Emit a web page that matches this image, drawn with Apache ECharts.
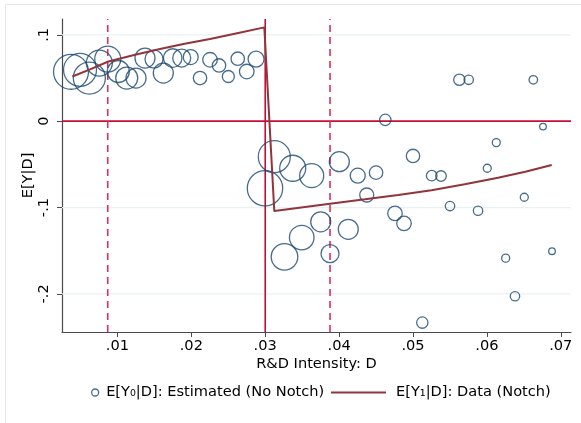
<!DOCTYPE html>
<html>
<head>
<meta charset="utf-8">
<script src="https://cdn.jsdelivr.net/npm/echarts@6/dist/echarts.min.js"></script>
<style>
html,body{margin:0;padding:0;background:#fff;}
#chart{width:581px;height:423px;}
</style>
</head>
<body>
<div id="chart"></div>
<script>
// Estimated E[Y0|D] bins: R&D intensity, outcome, bin weight
const estD = [0.00372,0.00494,0.0062,0.00755,0.00869,0.01012,0.01126,0.01252,0.01373,0.01495,
  0.01621,0.01748,0.0187,0.01992,0.02118,0.02253,0.02375,0.02501,0.02628,0.0275,0.02876,
  0.02997,0.03123,0.03372,0.03629,0.04003,0.04252,0.045,0.04374,0.04625,0.05,0.05253,0.05379,
  0.05627,0.05754,0.06005,0.06127,0.06628,0.06759,0.06506,0.05501,0.0588,0.04756,0.04878,
  0.03751,0.04124,0.03494,0.03261,0.03877,0.06254,0.06881,0.0638,0.05126];
const estY = [0.0572,0.0595,0.0499,0.0673,0.0719,0.0575,0.0499,0.0499,0.0731,0.0719,
  0.0557,0.0731,0.0731,0.0742,0.0499,0.0711,0.0645,0.0517,0.0723,0.0575,0.0719,
  -0.0777,-0.0411,-0.0545,-0.0631,-0.0469,-0.0631,-0.0596,-0.0855,0.0015,-0.0403,-0.0631,-0.0635,
  0.0479,0.0479,-0.0545,-0.0248,0.0479,-0.0063,-0.0881,-0.0983,-0.1037,-0.1067,-0.1183,
  -0.1165,-0.1252,-0.1348,-0.1571,-0.1534,-0.1586,-0.1505,-0.2027,-0.2332];
const estW = [306,272,256,169,169,121,121,100,100,81,
  100,86,81,56,45,53,45,36,45,53,64,
  313,256,169,144,100,56,45,49,32,45,28,28,
  32,22,16,16,18,11,16,22,22,53,53,
  100,100,151,177,81,16,11,22,32];

// Observed E[Y1|D] curve (with notch)
const lineD = [0.0039,0.0063,0.00877,0.0124,0.01576,0.0191,0.02253,0.0262,0.02988,
  0.03123,0.03877,0.0435,0.048,0.0525,0.057,0.0615,0.0652,0.06877];
const lineY = [0.0517,0.060,0.0691,0.0769,0.0835,0.0897,0.0951,0.1019,0.1086,
  -0.1041,-0.0956,-0.0905,-0.0855,-0.080,-0.0731,-0.0654,-0.0585,-0.0507];

// Reference lines
const notchD = 0.03;
const dashedD = [0.00869, 0.03877];
const zeroY = 0;
const gridY = [-0.2, -0.1, 0.1];

// Axis ranges and ticks
const xRange = [0.0025, 0.07138];
const yRange = [-0.2441, 0.1183];
const xTicks = [0.01,0.02,0.03,0.04,0.05,0.06,0.07];
const xTickLabels = ['.01','.02','.03','.04','.05','.06','.07'];
const yTicks = [-0.2,-0.1,0,0.1];
const yTickLabels = ['-.2','-.1','0','.1'];

const nameEst = 'E[Y\u2080|D]: Estimated (No Notch)';
const nameObs = 'E[Y\u2081|D]: Data (Notch)';

const FONT = 'DejaVu Sans';
const FS = 14.6;
const chart = echarts.init(document.getElementById('chart'), null, {renderer:'canvas'});

function labelFor(ticks, labels){
  return function(v){
    for (let i=0;i<ticks.length;i++){ if (Math.abs(v-ticks[i])<1e-9) return labels[i]; }
    return '';
  };
}

function vLine(v, style, z){
  return {type:'line', data:[[v, yRange[0]],[v, yRange[1]]], symbol:'none', silent:true, z:z,
    lineStyle:style, emphasis:{disabled:true}, tooltip:{show:false}};
}
function hLine(v, style, z){
  return {type:'line', data:[[xRange[0], v],[xRange[1], v]], symbol:'none', silent:true, z:z,
    lineStyle:style, emphasis:{disabled:true}, tooltip:{show:false}};
}

const refSeries = []
  .concat(gridY.map(v => hLine(v, {color:'#eaf1f2', width:1.2, type:'solid'}, 1)))
  .concat([hLine(zeroY, {color:'#c40f35', width:1.6, type:'solid'}, 2)])
  .concat([vLine(notchD, {color:'#c40f35', width:1.6, type:'solid'}, 2)])
  .concat(dashedD.map(v => vLine(v, {color:'#dc2f60', width:1.6, type:[7,5]}, 2)));

const option = {
  animation:false,
  backgroundColor:'#ffffff',
  graphic:[{type:'rect', shape:{x:5.5,y:4.5,width:620,height:460}, style:{fill:'none', stroke:'#e2e8eb', lineWidth:1}, silent:true, z:-10}],
  grid:{left:62, top:19, right:10, bottom:91, containLabel:false},
  xAxis:{
    type:'value', min:xRange[0], max:xRange[1],
    name:'R&D Intensity: D', nameLocation:'middle', nameGap:24.5, nameMoveOverlap:false,
    nameTextStyle:{fontFamily:FONT, fontSize:FS, color:'#000'},
    axisLine:{show:true, onZero:false, lineStyle:{color:'#4a4a4a', width:1.2}},
    axisTick:{show:true, length:5, customValues:xTicks, lineStyle:{color:'#4a4a4a'}},
    axisLabel:{customValues:xTicks, formatter:labelFor(xTicks,xTickLabels), margin:7, fontFamily:FONT, fontSize:FS, color:'#000'},
    splitLine:{show:false}
  },
  yAxis:{
    type:'value', min:yRange[0], max:yRange[1],
    name:'E[Y|D]', nameLocation:'middle', nameGap:26, nameRotate:90, nameMoveOverlap:false,
    nameTextStyle:{fontFamily:FONT, fontSize:FS, color:'#000'},
    axisLine:{show:true, onZero:false, lineStyle:{color:'#4a4a4a', width:1.2}},
    axisTick:{show:true, length:5, customValues:yTicks, lineStyle:{color:'#4a4a4a'}},
    axisLabel:{customValues:yTicks, rotate:90, formatter:labelFor(yTicks,yTickLabels), margin:10, fontFamily:FONT, fontSize:FS, color:'#000'},
    splitLine:{show:false}
  },
  legend:[
    {data:[nameEst], left:91, top:385, itemWidth:12, itemHeight:7, padding:0,
     icon:'circle',
     itemStyle:{color:'rgba(0,0,0,0)', borderColor:'#1a476f', borderWidth:1.3},
     textStyle:{fontFamily:FONT, fontSize:FS, color:'#000'}},
    {data:[nameObs], left:331, top:385, itemWidth:55, itemHeight:2, padding:0,
     icon:'rect', itemStyle:{color:'#90353b'},
     textStyle:{fontFamily:FONT, fontSize:FS, color:'#000', padding:[0,0,0,5]}}
  ],
  series: refSeries.concat([
    {
      type:'scatter', name:nameEst, z:3,
      data: estD.map((d,i)=>[d, estY[i], estW[i]]),
      symbol:'circle',
      symbolSize: v => 2*Math.sqrt(v[2]),
      itemStyle:{color:'rgba(0,0,0,0)', borderColor:'#1a476f', borderWidth:1.3},
      emphasis:{disabled:true}
    },
    {
      type:'line', name:nameObs, z:4,
      data: lineD.map((d,i)=>[d, lineY[i]]),
      symbol:'none', showSymbol:false, smooth:false,
      lineStyle:{color:'#90353b', width:2},
      itemStyle:{color:'#90353b'},
      emphasis:{disabled:true}
    }
  ])
};
chart.setOption(option);
</script>
</body>
</html>
